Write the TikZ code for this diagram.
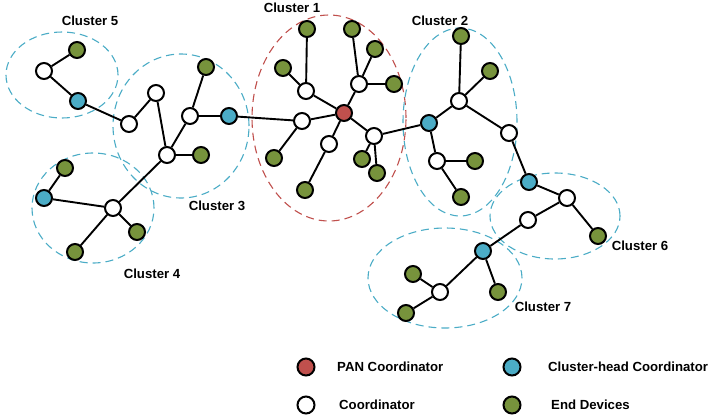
\documentclass[tikz,border=0pt]{standalone}
\usepackage{fontspec}
\setmainfont{Liberation Sans}
\definecolor{panred}{HTML}{C0504D}
\definecolor{chblue}{HTML}{4BACC6}
\definecolor{endgreen}{HTML}{77933C}
\begin{document}
\begin{tikzpicture}[x=1pt,y=-1pt,
 dev/.style={circle,draw=black,line width=2pt,minimum size=16pt,inner sep=0pt},
 pan/.style={dev,fill=panred},
 chd/.style={dev,fill=chblue},
 crd/.style={dev,fill=white},
 edv/.style={dev,fill=endgreen},
 link/.style={line width=1.9pt},
 clus/.style={line width=1.1pt,draw=chblue,dash pattern=on 8pt off 5pt},
 lbl/.style={font=\bfseries\fontsize{13.2}{15}\selectfont,inner sep=0pt}]
\useasboundingbox (0,0) rectangle (712,418);
% cluster outlines
\draw[clus] (62,75) ellipse [x radius=56pt, y radius=43pt];
\draw[clus] (181,126) ellipse [x radius=68pt, y radius=72pt];
\draw[clus] (93,208) ellipse [x radius=61pt, y radius=55pt];
\draw[clus,draw=panred] (329,118) ellipse [x radius=77pt, y radius=103pt];
\draw[clus] (460,122) ellipse [x radius=57pt, y radius=94pt];
\draw[clus] (555,216) ellipse [x radius=65pt, y radius=43pt];
\draw[clus] (445,278) ellipse [x radius=77pt, y radius=50pt];
% cluster 5
\node[crd] (w5) at (44,71) {};
\node[edv] (g5) at (77,50) {};
\node[chd] (b5) at (78,101) {};
% cluster 3
\node[crd] (w3a) at (129,124) {};
\node[crd] (w3b) at (156,93) {};
\node[edv] (g3a) at (206,67) {};
\node[crd] (w3c) at (190,116) {};
\node[chd] (b3) at (229,116) {};
\node[crd] (w3d) at (167,155) {};
\node[edv] (g3b) at (201,155) {};
% cluster 4
\node[crd] (w4) at (113,208) {};
\node[chd] (b4) at (44,198) {};
\node[edv] (g4a) at (65,168) {};
\node[edv] (g4b) at (137,232) {};
\node[edv] (g4c) at (75,252) {};
% cluster 1
\node[pan] (r) at (344,113) {};
\node[edv] (g1a) at (307,29) {};
\node[edv] (g1b) at (352,29) {};
\node[edv] (g1c) at (375,49) {};
\node[edv] (g1d) at (283,68) {};
\node[crd] (w1b) at (306,91) {};
\node[crd] (w1c) at (359,84) {};
\node[edv] (g1e) at (394,84) {};
\node[crd] (w1a) at (302,121) {};
\node[crd] (w1d) at (329,144) {};
\node[crd] (w1e) at (374,136) {};
\node[edv] (g1f) at (274,158) {};
\node[edv] (g1g) at (305,190) {};
\node[edv] (g1h) at (362,159) {};
\node[edv] (g1i) at (377,173) {};
% cluster 2
\node[edv] (g2a) at (461,36) {};
\node[edv] (g2b) at (490,71) {};
\node[crd] (w2a) at (459,101) {};
\node[chd] (b2) at (429,123) {};
\node[crd] (w2b) at (509,133) {};
\node[crd] (w2c) at (437,161) {};
\node[edv] (g2c) at (475,161) {};
\node[edv] (g2d) at (461,197) {};
% cluster 6
\node[chd] (b6) at (529,182) {};
\node[crd] (w6a) at (567,198) {};
\node[crd] (w6b) at (528,220) {};
\node[edv] (g6) at (598,236) {};
% cluster 7
\node[chd] (b7) at (483,251) {};
\node[crd] (w7) at (440,292) {};
\node[edv] (g7a) at (413,274) {};
\node[edv] (g7b) at (498,292) {};
\node[edv] (g7c) at (406,313) {};
% links
\draw[link] (w5) -- (g5);
\draw[link] (w5) -- (b5);
\draw[link] (b5) -- (w3a);
\draw[link] (w3a) -- (w3b);
\draw[link] (w3b) -- (w3d);
\draw[link] (w3c) -- (g3a);
\draw[link] (w3c) -- (b3);
\draw[link] (w3c) -- (w3d);
\draw[link] (w3d) -- (g3b);
\draw[link] (w3d) -- (w4);
\draw[link] (b4) -- (g4a);
\draw[link] (b4) -- (w4);
\draw[link] (w4) -- (g4b);
\draw[link] (w4) -- (g4c);
\draw[link] (b3) -- (w1a);
\draw[link] (w1a) -- (r);
\draw[link] (w1a) -- (g1f);
\draw[link] (w1b) -- (g1a);
\draw[link] (w1b) -- (g1d);
\draw[link] (w1b) -- (r);
\draw[link] (w1c) -- (g1b);
\draw[link] (w1c) -- (g1c);
\draw[link] (w1c) -- (g1e);
\draw[link] (w1c) -- (r);
\draw[link] (r) -- (w1d);
\draw[link] (w1d) -- (g1g);
\draw[link] (r) -- (w1e);
\draw[link] (w1e) -- (g1h);
\draw[link] (w1e) -- (g1i);
\draw[link] (w1e) -- (b2);
\draw[link] (w2a) -- (g2a);
\draw[link] (w2a) -- (g2b);
\draw[link] (w2a) -- (b2);
\draw[link] (w2a) -- (w2b);
\draw[link] (w2b) -- (b6);
\draw[link] (b2) -- (w2c);
\draw[link] (w2c) -- (g2c);
\draw[link] (w2c) -- (g2d);
\draw[link] (b6) -- (w6a);
\draw[link] (w6a) -- (w6b);
\draw[link] (w6a) -- (g6);
\draw[link] (w6b) -- (b7);
\draw[link] (b7) -- (w7);
\draw[link] (b7) -- (g7b);
\draw[link] (w7) -- (g7a);
\draw[link] (w7) -- (g7c);
% labels
\node[lbl] (l5) at (90,21) {Cluster 5};
\node[lbl] (l1) at (292,8) {Cluster 1};
\node[lbl] (l2) at (440,21) {Cluster 2};
\node[lbl] (l3) at (217,206) {Cluster 3};
\node[lbl] (l4) at (152,274) {Cluster 4};
\node[lbl] (l6) at (640,246) {Cluster 6};
\node[lbl] (l7) at (543,307) {Cluster 7};
% legend
\node[pan,minimum size=17pt] (kp) at (306,367) {};
\node[lbl,anchor=west] (tp) at (337,367) {PAN Coordinator};
\node[chd,minimum size=17pt] (kc) at (512,367) {};
\node[lbl,anchor=west] (tc) at (548,367) {Cluster-head Coordinator};
\node[crd,minimum size=17pt] (kw) at (306,405) {};
\node[lbl,anchor=west] (tw) at (339,405) {Coordinator};
\node[edv,minimum size=17pt] (ke) at (512,405) {};
\node[lbl,anchor=west] (te) at (551,405) {End Devices};
\end{tikzpicture}
\end{document}
